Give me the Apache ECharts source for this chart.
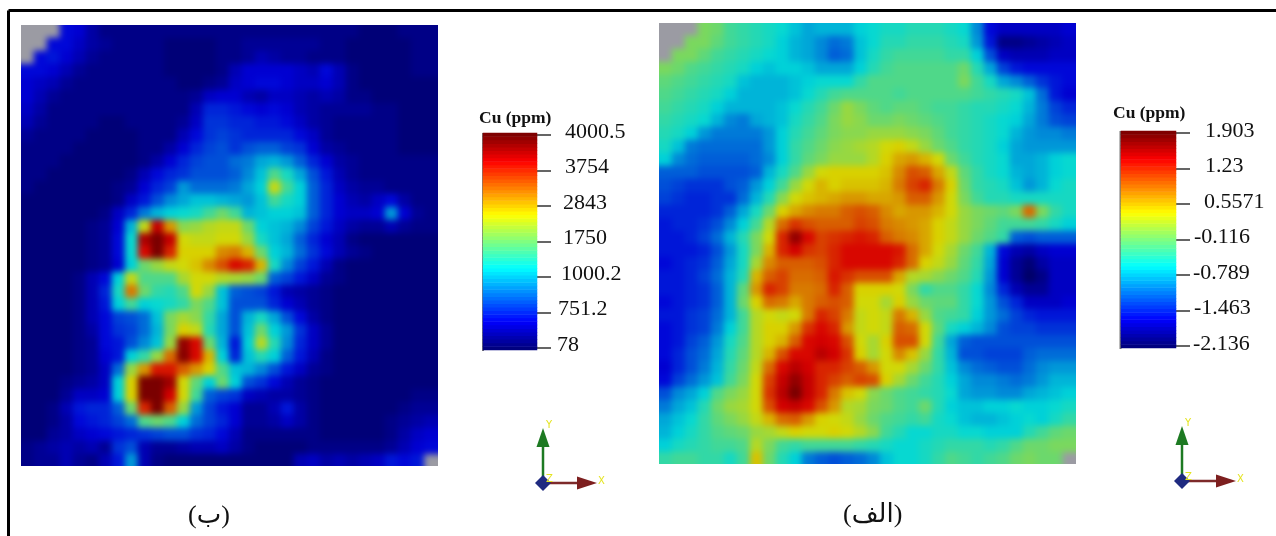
<!DOCTYPE html>
<html>
<head>
<meta charset="utf-8">
<style>
html,body{margin:0;padding:0;background:#fff}
#maps,#c{position:absolute;left:0;top:0;width:1276px;height:536px}
#maps{filter:blur(3px);clip-path:path("M21 25H438V466H21Z M659 23H1076V464H659Z")}
</style>
<script src="https://cdn.jsdelivr.net/npm/echarts@6/dist/echarts.min.js"></script>
</head>
<body>
<div id="maps"></div>
<div id="c"></div>
<script>
// Values are positions on the colour scale: 0 = bottom of the bar, 60 = top, 10 per tick. null = no data (grey).
var n = null;
var leftLevels = [
[n,n,n,8,7,4,2,2,2,2,2,2,2,2,2,2,2,2,2,2,2,2,2,2,2,2,1,1,1,2,2,2],
[n,n,8,8,6,4,3,2,2,2,2,1,1,1,1,2,2,3,3,3,3,3,3,2,2,1,1,1,1,1,2,2],
[n,8,9,7,5,3,2,2,2,2,2,1,1,1,1,2,2,3,5,4,3,3,2,2,2,1,1,1,1,1,2,2],
[8,8,7,5,3,2,2,2,2,2,2,1,1,1,1,2,5,7,7,7,7,6,5,8,5,2,1,1,1,1,2,2],
[7,6,5,3,2,2,2,2,2,2,2,2,1,1,2,3,6,7,8,8,7,6,6,7,5,2,1,1,1,1,1,1],
[7,5,3,2,2,2,2,2,2,2,2,2,2,3,6,7,7,5,4,6,6,5,4,5,4,2,2,1,1,1,1,1],
[6,4,2,2,2,2,2,2,2,2,2,2,2,5,10,10,9,8,7,8,7,5,4,3,3,3,3,2,2,1,1,1],
[5,3,2,2,2,2,1,1,2,2,2,2,3,6,11,11,10,10,9,9,8,6,4,3,2,2,2,2,2,1,1,1],
[3,2,2,2,2,1,1,1,1,2,2,2,5,8,11,12,11,10,10,10,10,8,6,3,2,2,2,2,2,1,1,1],
[2,2,2,2,1,1,1,1,1,2,2,4,7,10,12,13,11,13,14,14,12,11,7,4,3,2,2,2,2,1,1,1],
[2,2,2,1,1,1,1,1,1,2,4,7,10,12,13,13,15,16,19,20,18,14,10,7,4,3,2,2,2,2,2,2],
[2,2,1,1,1,1,1,1,2,5,8,10,11,13,13,13,14,17,21,28,24,19,13,9,5,3,2,2,2,2,2,2],
[2,1,1,1,1,1,1,2,3,7,10,12,18,15,15,15,16,19,22,36,27,22,14,10,6,4,3,3,2,2,2,2],
[1,1,1,1,1,1,1,2,6,9,13,17,19,21,21,20,19,18,21,27,24,22,14,10,7,5,4,6,8,4,2,2],
[1,1,1,1,1,1,2,6,10,16,20,22,23,24,27,30,27,20,21,22,22,21,14,10,7,6,6,7,18,7,3,2],
[1,1,1,1,1,2,3,7,20,36,54,42,32,33,35,36,36,30,22,21,20,17,12,9,6,4,3,3,5,3,2,2],
[1,1,1,1,1,2,3,8,23,56,60,54,37,36,36,37,37,33,24,21,19,14,10,7,5,2,1,1,1,1,1,1],
[1,1,1,1,1,2,3,8,23,52,60,50,38,38,38,43,44,40,30,22,20,15,11,8,5,3,2,1,1,1,1,1],
[1,1,1,1,1,2,3,7,22,30,33,36,37,39,43,47,52,50,40,24,17,12,9,5,2,1,1,1,1,1,1,1],
[1,1,1,1,2,5,8,22,36,28,28,28,34,37,37,35,34,33,30,14,12,9,6,3,2,1,1,1,1,1,1,1],
[1,1,1,1,2,5,10,24,44,30,26,25,28,37,33,21,14,13,12,9,5,4,3,2,1,1,1,1,1,1,1,1],
[1,1,1,1,2,5,9,22,27,22,23,24,26,31,28,21,13,13,13,10,7,5,3,2,1,1,1,1,1,1,1,1],
[1,1,1,1,2,5,8,12,13,15,21,31,34,32,26,19,13,20,24,19,13,8,4,2,1,1,1,1,1,1,1,1],
[1,1,1,1,2,4,8,11,12,15,20,31,38,36,25,19,13,21,30,22,18,11,6,3,1,1,1,1,1,1,1,1],
[1,1,1,1,2,3,8,9,13,17,21,33,58,52,30,20,9,22,35,25,17,10,6,3,1,1,1,1,1,1,1,1],
[1,1,1,1,2,3,7,9,22,26,33,45,59,52,40,22,10,21,25,22,14,9,5,2,1,1,1,1,1,1,1,1],
[1,1,1,1,2,3,6,15,33,42,51,51,46,42,38,28,21,20,17,13,9,6,3,2,1,1,1,1,1,1,1,1],
[1,1,1,2,3,4,6,22,38,60,60,57,37,29,22,30,22,13,11,8,5,3,2,1,1,1,1,1,1,1,1,1],
[1,1,1,3,6,6,7,22,38,60,60,53,37,27,14,12,11,6,5,4,4,3,2,1,1,1,1,1,1,1,2,2],
[1,1,2,5,9,10,10,14,30,50,60,46,33,18,12,9,7,3,3,5,9,4,2,1,1,1,1,1,1,2,3,3],
[1,1,2,4,8,9,10,12,15,28,30,28,22,15,12,10,7,3,3,4,6,4,2,1,1,1,1,1,2,3,4,5],
[1,1,3,4,6,7,8,9,10,11,12,13,13,11,10,8,5,2,2,2,2,2,2,1,1,1,1,1,2,4,6,7],
[2,3,4,5,4,5,3,11,13,5,3,3,4,5,5,6,4,2,1,1,1,1,2,2,2,2,2,2,3,5,7,8],
[2,3,3,5,3,2,5,9,18,5,2,1,1,1,1,1,1,1,1,1,1,5,6,4,5,4,5,6,9,8,9,n]
];
var rightLevels = [
[n,n,n,31,30,27,26,25,24,23,21,19,20,20,20,22,23,24,24,25,25,25,24,23,17,8,6,6,6,6,6,7],
[n,n,31,31,29,27,26,25,24,22,20,19,17,15,16,21,23,25,25,26,26,26,25,24,18,9,2,2,3,4,5,6],
[n,31,31,29,27,26,25,24,23,22,20,19,17,14,15,21,24,26,27,27,27,27,26,26,22,13,6,5,5,5,6,6],
[31,30,28,27,26,25,24,22,21,22,22,21,19,19,19,22,25,27,28,28,28,28,28,30,25,19,12,9,8,8,8,8],
[29,28,27,26,25,24,21,20,20,20,21,22,23,23,23,26,28,28,28,28,28,28,28,31,27,24,19,17,14,11,9,8],
[28,27,26,25,24,22,20,20,20,20,21,23,25,27,28,28,28,28,27,28,28,28,28,28,27,26,25,24,21,15,9,7],
[27,26,25,24,22,20,20,20,20,21,23,25,27,30,33,31,29,28,29,29,28,27,27,26,25,25,24,23,20,16,12,10],
[26,25,24,23,20,17,16,19,20,21,24,26,28,31,33,32,30,30,31,30,29,28,27,26,25,24,23,22,19,16,13,12],
[25,24,22,18,16,16,16,16,18,22,25,27,29,31,32,32,33,33,33,32,31,29,27,26,25,24,23,20,18,17,17,16],
[24,21,16,15,15,15,15,15,18,22,26,28,30,32,33,34,35,37,38,36,33,30,28,26,25,24,22,19,18,18,18,18],
[22,17,15,14,14,14,14,15,17,22,26,29,31,33,33,33,35,38,41,42,40,37,30,27,25,24,23,19,19,20,22,23],
[14,14,14,13,13,13,13,14,20,24,28,33,37,38,38,38,38,39,43,47,46,41,36,29,26,24,23,20,19,20,22,23],
[13,12,11,11,11,13,14,18,22,27,33,37,40,38,39,39,39,40,44,48,50,44,38,30,26,25,24,21,18,20,23,24],
[12,11,10,10,11,11,15,20,25,32,37,39,40,41,42,42,41,41,42,46,46,42,37,31,27,25,25,24,24,24,24,24],
[10,10,10,10,11,14,19,24,30,38,41,43,44,44,46,47,46,43,41,42,42,40,37,33,31,30,29,31,45,31,26,24],
[9,10,10,11,13,17,22,27,35,45,49,47,46,46,46,48,47,44,43,42,41,38,36,33,31,29,27,27,27,26,24,22],
[9,9,10,12,15,20,25,31,37,50,58,52,48,49,50,51,50,46,44,43,41,38,36,33,30,28,26,14,13,14,14,14],
[9,9,9,10,13,18,24,31,40,50,53,49,48,50,52,52,52,52,51,45,41,37,34,30,27,20,8,5,4,6,7,7],
[8,9,10,11,14,19,24,34,43,46,46,46,47,50,52,52,52,52,50,45,38,36,33,29,26,19,7,3,1,4,6,6],
[9,9,10,12,15,20,25,40,46,48,45,45,46,51,49,47,47,47,41,35,34,32,30,28,25,18,7,3,0,2,6,6],
[9,9,10,11,14,20,29,42,50,48,44,44,45,50,46,38,38,38,37,31,26,28,28,26,23,17,10,5,3,3,6,6],
[8,9,10,11,14,20,30,38,45,44,41,44,46,47,46,37,37,34,38,33,30,29,29,26,23,18,13,10,6,6,6,7],
[9,9,11,12,15,20,27,35,37,36,37,44,50,48,44,36,37,36,44,40,33,28,27,26,22,18,15,12,10,9,9,9],
[8,9,11,12,16,22,27,35,38,38,42,49,52,50,42,36,37,36,46,45,37,29,24,22,20,17,13,12,12,11,11,11],
[8,9,12,14,18,24,28,35,38,40,46,52,53,52,47,37,34,38,47,47,37,27,19,14,13,13,13,13,13,13,13,13],
[8,10,13,15,19,25,29,35,40,47,52,52,55,53,49,38,34,37,43,39,33,26,20,13,13,12,12,12,14,15,15,15],
[7,10,13,16,20,26,30,36,45,52,55,53,50,50,48,46,42,37,37,34,30,26,21,17,15,14,13,13,15,17,18,18],
[8,12,15,18,21,27,31,37,48,54,58,54,50,48,46,48,47,38,34,30,27,25,22,19,17,17,16,15,16,18,20,20],
[13,17,19,22,28,31,33,37,49,55,60,54,50,44,39,37,32,30,28,27,26,25,23,19,18,18,17,17,19,20,21,22],
[16,19,21,25,30,33,34,37,47,53,54,52,47,42,35,34,31,30,28,27,30,25,22,21,21,22,22,23,22,22,23,24],
[19,21,23,26,29,31,33,36,40,45,46,42,38,37,36,33,30,28,27,26,27,24,23,21,20,20,21,22,23,22,24,26],
[20,22,24,26,28,29,30,33,34,36,38,37,37,38,37,35,32,27,25,23,23,24,24,23,23,22,22,22,25,27,29,30],
[22,24,25,26,27,27,28,35,31,27,26,27,27,27,27,26,25,24,23,23,24,25,26,26,26,25,26,28,30,30,31,31],
[26,27,27,26,26,24,27,39,30,25,22,16,14,13,14,15,17,21,23,23,24,26,28,27,26,27,28,30,31,30,30,n]
];
var leftTicks = ['78','751.2','1000.2','1750','2843','3754','4000.5'];
var rightTicks = ['-2.136','-1.463','-0.789','-0.116','0.5571','1.23','1.903'];
var unitTitle = 'Cu (ppm)';
var leftCaption = '(ب)';
var rightCaption = '(الف)';

var barColors = ['#00007f','#0000ff','#0080ff','#00ffff','#80ff80','#ffff00','#ff8000','#ff0000','#7f0000'];
var mapColors = ['#000068','#0000d8','#006cd8','#00d8d8','#6cd86c','#d8d800','#d86c00','#d80000','#7a0000'];
var SERIF = '"Liberation Serif","Times New Roman",serif';
var ARABIC = '"Liberation Serif","DejaVu Sans",serif';

function idx(k){var a=[];for(var i=0;i<k;i++)a.push(String(i));return a;}
// repeat the edge cells once outside the clipped panel so the soft rendering keeps its edge colours
function padEdges(rows){
  var r = rows.map(function(x){return [x[0]].concat(x,[x[x.length-1]]);});
  return [r[0]].concat(r,[r[r.length-1]]);
}
function cells(rows){
  var out=[], h=rows.length;
  rows.forEach(function(r,j){r.forEach(function(v,i){ if(v!==null) out.push([i,h-1-j,v]); });});
  return out;
}
var barLevels = idx(61);
var barData = barLevels.map(function(l,i){return [0,i,i];});

function mapGrid(l,t){return {left:l-13,top:t-13,width:442,height:468,show:true,backgroundColor:'#9b9ba3',borderWidth:0};}
function hiddenCat(g,d){return {type:'category',gridIndex:g,data:d,show:false};}
function tickAxis(g,labels,offsets,up){
  var rich={};
  offsets.forEach(function(o,i){rich['o'+i]={fontFamily:SERIF,fontSize:22,color:'#111',padding:[0,0,up,o]};});
  return {type:'category',gridIndex:g,data:barLevels,position:'right',
    axisLine:{show:false},
    axisTick:{show:true,length:14,alignWithLabel:true,interval:function(i){return i%10===0;},lineStyle:{color:'#333',width:1.5}},
    axisLabel:{show:true,margin:4,align:'left',interval:function(i){return i%10===0;},
      formatter:function(v){var k=Number(v)/10;return '{o'+k+'|'+labels[k]+'}';},rich:rich}};
}
function gizmo(ox,oy){
  return [
    {type:'line',shape:{x1:ox,y1:oy,x2:ox,y2:oy-40},style:{stroke:'#1d7a22',lineWidth:2.5}},
    {type:'polygon',shape:{points:[[ox,oy-55],[ox-6.5,oy-36],[ox+6.5,oy-36]]},style:{fill:'#1d7a22'}},
    {type:'line',shape:{x1:ox,y1:oy,x2:ox+36,y2:oy},style:{stroke:'#7d2a2a',lineWidth:2.5}},
    {type:'polygon',shape:{points:[[ox+54,oy],[ox+34,oy-6.5],[ox+34,oy+6.5]]},style:{fill:'#7d1f1f'}},
    {type:'polygon',shape:{points:[[ox-8,oy],[ox,oy-8],[ox+8,oy],[ox,oy+8]]},style:{fill:'#1f2a80'}},
    {type:'text',x:ox+3,y:oy-63,style:{text:'Y',fill:'#e4e420',font:'10px "DejaVu Sans"'}},
    {type:'text',x:ox+55,y:oy-7,style:{text:'X',fill:'#e4e420',font:'10px "DejaVu Sans"'}},
    {type:'text',x:ox+3,y:oy-9,style:{text:'Z',fill:'#e4e420',font:'10px "DejaVu Sans"'}}
  ];
}
var graphics = [
  {type:'line',shape:{x1:8.5,y1:10.5,x2:1276,y2:10.5},style:{stroke:'#000',lineWidth:3}},
  {type:'line',shape:{x1:8.5,y1:10.5,x2:8.5,y2:536},style:{stroke:'#000',lineWidth:3}},
  {type:'line',shape:{x1:483,y1:133,x2:483,y2:351},style:{stroke:'#777',lineWidth:2}},
  {type:'line',shape:{x1:1120.5,y1:131,x2:1120.5,y2:349},style:{stroke:'#777',lineWidth:2}},
  {type:'text',x:479,y:109,style:{text:unitTitle,fill:'#111',font:'bold 17.5px '+SERIF}},
  {type:'text',x:1113,y:104,style:{text:unitTitle,fill:'#111',font:'bold 17.5px '+SERIF}},
  {type:'text',x:188,y:503,style:{text:leftCaption,fill:'#111',font:'26px '+ARABIC}},
  {type:'text',x:843,y:502,style:{text:rightCaption,fill:'#111',font:'26px '+ARABIC}}
].concat(gizmo(543,483)).concat(gizmo(1182,481));

var mapOption = {
  animation:false,
  grid:[mapGrid(21,25),mapGrid(659,23)],
  xAxis:[hiddenCat(0,idx(34)),hiddenCat(1,idx(34))],
  yAxis:[hiddenCat(0,idx(36)),hiddenCat(1,idx(36))],
  visualMap:[{type:'continuous',show:false,min:0,max:60,seriesIndex:[0,1],inRange:{color:mapColors}}],
  series:[
    {type:'heatmap',xAxisIndex:0,yAxisIndex:0,data:cells(padEdges(leftLevels)),progressive:0},
    {type:'heatmap',xAxisIndex:1,yAxisIndex:1,data:cells(padEdges(rightLevels)),progressive:0}
  ]
};
var option = {
  animation:false,
  grid:[{left:483,top:133,width:54,height:217},{left:1121,top:131,width:55,height:217}],
  xAxis:[hiddenCat(0,['c']),hiddenCat(1,['c'])],
  yAxis:[
    tickAxis(0,leftTicks,[16,17,20,22,22,24,24],6),
    tickAxis(1,rightTicks,[13,14,13,14,24,25,25],4)],
  visualMap:[{type:'continuous',show:false,min:0,max:60,seriesIndex:[0,1],inRange:{color:barColors}}],
  series:[
    {type:'heatmap',xAxisIndex:0,yAxisIndex:0,data:barData,progressive:0},
    {type:'heatmap',xAxisIndex:1,yAxisIndex:1,data:barData,progressive:0}
  ],
  graphic:{elements:graphics}
};
echarts.init(document.getElementById('maps'),null,{renderer:'canvas'}).setOption(mapOption);
echarts.init(document.getElementById('c'),null,{renderer:'canvas'}).setOption(option);
</script>
</body>
</html>
